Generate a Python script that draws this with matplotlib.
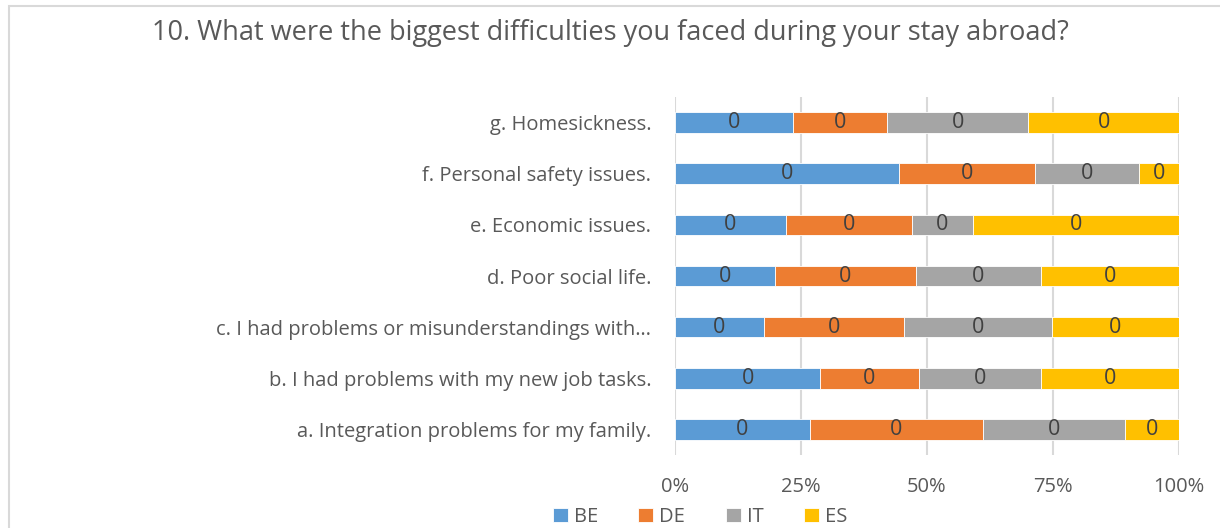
import matplotlib.pyplot as plt
import numpy as np
from matplotlib.patches import Rectangle

categories = ['a. Integration problems for my family.',
              'b. I had problems with my new job tasks.',
              'c. I had problems or misunderstandings with\u2026',
              'd. Poor social life.',
              'e. Economic issues.',
              'f. Personal safety issues.',
              'g. Homesickness.']
series = ['BE', 'DE', 'IT', 'ES']
BE = [26.8, 28.8, 17.7, 19.8, 22.0, 44.4, 23.4]
DE = [34.3, 19.6, 27.8, 28.0, 25.0, 27.0, 18.7]
IT = [28.2, 24.2, 29.4, 24.8, 12.1, 20.6, 28.0]
ES = [10.7, 27.4, 25.2, 27.4, 40.9, 8.0, 29.9]
seg_labels = ['0', '0', '0', '0']
colors = ['#5b9bd5', '#ed7d31', '#a5a5a5', '#ffc000']
xticks = [0, 25, 50, 75, 100]
xticklabels = ['0%', '25%', '50%', '75%', '100%']

txt = '#595959'
plt.rcParams['font.family'] = ['Open Sans', 'DejaVu Sans']

fig = plt.figure(figsize=(12.2, 5.28), dpi=100)
fig.patches.append(Rectangle((9 / 1220, -0.1), 1.2, (528 - 6) / 528 + 0.1,
                             transform=fig.transFigure, fill=False,
                             edgecolor='#d9d9d9', linewidth=1.5))
ax = fig.add_axes([675 / 1220, 1 - 455 / 528, 504 / 1220, 358 / 528])

vals = np.array([BE, DE, IT, ES])
totals = vals.sum(axis=0)
pct = vals / totals * 100
y = np.arange(len(categories))
left = np.zeros(len(categories))
for i, name in enumerate(series):
    bars = ax.barh(y, pct[i], left=left, height=0.4, color=colors[i],
                   edgecolor='white', linewidth=0.6, label=name, zorder=3)
    ax.bar_label(bars, labels=[seg_labels[i]] * len(y), label_type='center',
                 color='#404040', fontsize=15.5)
    left += pct[i]

ax.set_xlim(0, 100)
ax.set_ylim(-0.5, len(categories) - 0.5)
ax.set_xticks(xticks)
ax.set_xticklabels(xticklabels, color=txt, fontsize=14.5)
ax.set_yticks(y)
ax.set_yticklabels(categories, color=txt, fontsize=14.5)
ax.tick_params(axis='both', length=0)
ax.tick_params(axis='y', pad=17)
ax.tick_params(axis='x', pad=16)
ax.grid(axis='x', color='#d9d9d9', linewidth=1.5, zorder=0)
for s in ax.spines.values():
    s.set_visible(False)

fig.text(0.5, 1 - 33 / 528, '10. What were the biggest difficulties you faced during your stay abroad?',
         ha='center', va='center', fontsize=19.5, color=txt)

fig.legend(loc='center', bbox_to_anchor=(700 / 1220, 1 - 517 / 528), ncol=4,
           frameon=False, fontsize=14.5, handlelength=0.75, handleheight=0.75,
           handletextpad=0.3, columnspacing=2.0, labelcolor=txt)

fig.savefig('out.png', dpi=100)
